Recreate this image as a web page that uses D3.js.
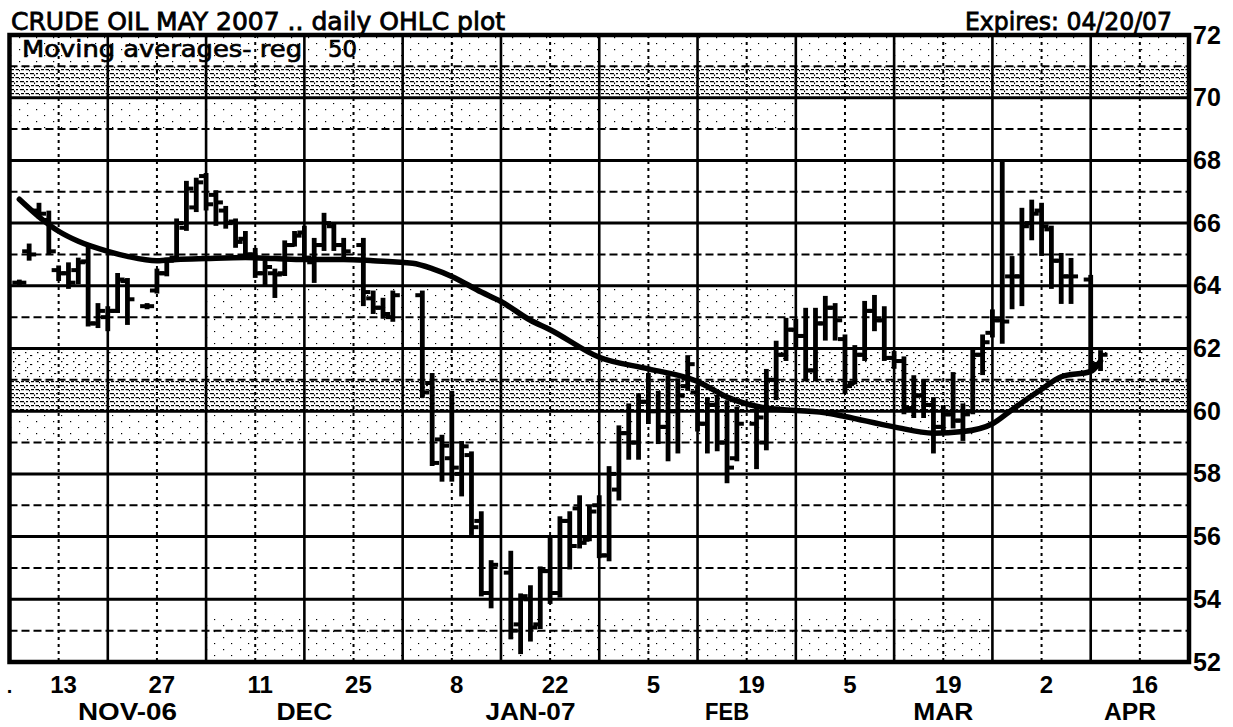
<!DOCTYPE html>
<html><head><meta charset="utf-8">
<script src="https://cdn.jsdelivr.net/npm/d3@7"></script>
<style>
html,body{margin:0;padding:0;background:#fff;}
svg{display:block;}
</style></head><body>
<svg id="chart" width="1233" height="727"></svg>
<script>
// ---------------- data ----------------
const dates = ["2006-11-07","2006-11-08","2006-11-09","2006-11-10",
"2006-11-13","2006-11-14","2006-11-15","2006-11-16","2006-11-17",
"2006-11-20","2006-11-21","2006-11-22","2006-11-24",
"2006-11-27","2006-11-28","2006-11-29","2006-11-30","2006-12-01",
"2006-12-04","2006-12-05","2006-12-06","2006-12-07","2006-12-08",
"2006-12-11","2006-12-12","2006-12-13","2006-12-14","2006-12-15",
"2006-12-18","2006-12-19","2006-12-20","2006-12-21","2006-12-22",
"2006-12-26","2006-12-27","2006-12-28","2006-12-29",
"2007-01-03","2007-01-04","2007-01-05",
"2007-01-08","2007-01-09","2007-01-10","2007-01-11","2007-01-12",
"2007-01-16","2007-01-17","2007-01-18","2007-01-19",
"2007-01-22","2007-01-23","2007-01-24","2007-01-25","2007-01-26",
"2007-01-29","2007-01-30","2007-01-31","2007-02-01","2007-02-02",
"2007-02-05","2007-02-06","2007-02-07","2007-02-08","2007-02-09",
"2007-02-12","2007-02-13","2007-02-14","2007-02-15","2007-02-16",
"2007-02-20","2007-02-21","2007-02-22","2007-02-23",
"2007-02-26","2007-02-27","2007-02-28","2007-03-01","2007-03-02",
"2007-03-05","2007-03-06","2007-03-07","2007-03-08","2007-03-09",
"2007-03-12","2007-03-13","2007-03-14","2007-03-15","2007-03-16",
"2007-03-19","2007-03-20","2007-03-21","2007-03-22","2007-03-23",
"2007-03-26","2007-03-27","2007-03-28","2007-03-29","2007-03-30",
"2007-04-02","2007-04-03","2007-04-04","2007-04-05",
"2007-04-09","2007-04-10"];
const opens = [64.10,65.10,66.40,66.10, 64.50,64.40,64.50,64.78,62.80, 63.00,63.20,64.15,63.35,
63.85,64.40,64.90,65.85,66.50, 67.50,66.90,66.40,66.05,65.50, 65.00,64.40,64.40,64.40,65.30,
65.70,64.75,65.30,65.90,65.30, 65.30,63.60,63.30,63.00, 63.70,60.90,59.10,
58.50,58.00,58.60,56.50,54.20, 54.85,53.20,54.00,53.20, 54.90,54.20,56.50,56.90,55.90,
57.00,55.40,57.50,59.30,59.00, 60.30,60.00,59.50,60.00,60.80, 60.60,59.60,60.20,59.00,58.50,
59.60,59.00,61.00,61.80, 62.60,62.40,61.30,62.80,63.30, 62.30,60.90,61.80,63.20,62.90,
61.70,61.60,60.10,60.50,60.20, 59.50,59.90,59.70,60.00,61.80, 62.50,62.90,64.30,64.30,66.00,
66.40,65.80,64.80,64.30, 64.20,61.50];
const highs = [64.15,65.30,66.60,66.35, 64.60,64.70,64.85,65.20,63.40, 63.30,64.36,64.20,63.40,
64.50,64.85,66.10,67.30,67.40, 67.55,67.00,66.50,66.10,65.70, 65.16,64.75,64.50,65.40,65.70,
65.87,65.48,66.28,65.96,65.48, 65.48,63.80,63.57,63.80, 63.80,61.17,59.20,
60.60,59.00,58.67,56.76,55.20, 55.50,54.14,54.40,55.00, 56.00,56.60,56.76,57.27,56.95,
57.27,58.20,59.50,60.20,60.53, 61.17,60.60,61.10,61.00,61.74, 60.80,60.40,60.47,60.30,60.10,
60.15,61.30,62.20,62.93, 62.90,63.25,63.25,63.63,63.40, 62.40,62.06,63.47,63.66,63.30,
61.87,61.70,61.10,60.97,60.40, 60.15,61.20,60.20,62.00,62.40, 63.20,68.00,64.90,66.44,66.70,
66.60,65.87,65.00,64.84, 64.30,61.90];
const lows = [64.05,64.85,66.20,65.05, 64.20,63.95,64.10,62.75,62.70, 62.60,63.18,62.80,63.30,
63.80,64.35,64.90,65.80,66.40, 66.45,65.96,65.87,65.26,64.94, 64.30,64.04,63.66,64.36,65.30,
64.84,64.14,65.16,65.16,64.94, 63.40,63.15,63.00,62.90, 60.47,58.30,57.80,
57.80,57.33,56.10,54.14,53.76, 52.77,52.30,52.70,53.10, 53.90,54.10,55.00,55.67,55.90,
55.36,55.26,57.20,58.50,58.50, 59.64,59.00,58.45,58.70,60.70, 59.40,58.70,58.77,57.75,58.45,
58.20,58.80,60.40,61.65, 62.00,61.00,61.00,62.30,62.30, 60.60,60.90,61.65,62.60,61.65,
61.40,59.95,59.83,59.83,58.70, 59.30,59.50,59.10,59.95,61.20, 62.40,62.20,63.30,63.40,65.50,
65.00,63.95,63.47,63.47, 61.33,61.33];
const closes = [64.10,65.00,66.30,65.10, 64.40,64.10,64.75,62.80,63.20, 63.20,64.20,63.57,63.35,
64.40,64.80,66.00,67.10,67.30, 66.60,66.66,66.00,65.40,65.00, 64.40,64.60,64.36,65.30,65.60,
64.90,65.30,66.00,65.30,65.10, 63.80,63.30,63.10,63.70, 60.60,58.35,58.90,
58.20,58.88,56.30,54.20,55.10, 53.00,54.10,53.10,54.90, 54.20,56.50,55.70,55.80,56.80,
55.40,58.00,59.30,59.00,60.30, 60.00,59.50,60.00,60.50,61.50, 59.60,60.20,59.00,58.20,59.60,
59.80,61.00,61.80,62.60, 62.40,61.30,62.80,63.30,62.90, 60.80,61.80,63.20,62.90,61.70,
61.60,60.10,60.50,60.20,59.50, 59.90,59.70,59.90,61.80,62.20, 62.90,62.86,64.30,65.90,66.30,
65.90,64.80,64.30,64.30, 61.50,61.80];

// 50-day moving average
const maDates = ["2006-11-07","2006-11-09","2006-11-13","2006-11-15","2006-11-20","2006-11-22",
"2006-11-27","2006-11-29","2006-12-04","2006-12-08","2006-12-13","2006-12-18","2006-12-22",
"2006-12-27","2007-01-02","2007-01-04","2007-01-08","2007-01-11","2007-01-15","2007-01-18",
"2007-01-22","2007-01-29","2007-02-05","2007-02-12","2007-02-15","2007-02-21","2007-03-01",
"2007-03-05","2007-03-12","2007-03-16","2007-03-21","2007-03-26","2007-03-28","2007-04-02",
"2007-04-04","2007-04-09","2007-04-10"];
const maValues = [66.76,66.20,65.74,65.42,65.10,64.94, 64.80,64.84,64.87,64.90,64.87,64.84,64.84,
64.80,64.72,64.55,64.30,63.80,63.50,62.90, 62.60,61.72,61.35,60.95,60.45,60.10,59.95,
59.83,59.50,59.30,59.35,59.60,60.05,60.70, 61.10,61.27,61.60];

const yTickValues = [52,54,56,58,60,62,64,66,68,70,72];
const dayLabelDates = ["2006-11-13","2006-11-27","2006-12-11","2006-12-25","2007-01-08","2007-01-22",
"2007-02-05","2007-02-19","2007-03-05","2007-03-19","2007-04-02","2007-04-16"];
const dayLabelTexts = ["13","27","11","25","8","22","5","19","5","19","2","16"];
const monthLabelDates = ["2006-11-22","2006-12-18","2007-01-18","2007-02-15","2007-03-19","2007-04-13"];
const monthLabelTexts = ["NOV-06","DEC","JAN-07","FEB","MAR","APR"];

const titleText = "CRUDE OIL MAY 2007 .. daily OHLC plot";
const expiresText = "Expires: 04/20/07";
const maLabelText = "Moving averages- reg";
const maPeriodText = "50";

// ---------------- layout ----------------
const W = 1233, H = 727;
const plot = {left: 9.5, right: 1189, top: 35, bottom: 662};
const origin = Date.UTC(2006, 10, 6);           // Monday, first week of the chart
function slotOf(s) {                               // trading-day slot (5 per week)
  const [y, m, d] = s.split("-").map(Number);
  const days = Math.round((Date.UTC(y, m - 1, d) - origin) / 86400000);
  return Math.floor(days / 7) * 5 + (days % 7);
}
const x = d3.scaleLinear().domain([0, 120]).range([plot.left, plot.right]);
const y = d3.scaleLinear().domain([52, 72]).range([plot.bottom, plot.top]);

const svg = d3.select("#chart");
svg.append("rect").attr("width", W).attr("height", H).attr("fill", "#fff");

// halftone patterns (scanned shading)
const defs = svg.append("defs");
function pattern(id, w, h, rects) {
  const p = defs.append("pattern").attr("id", id).attr("patternUnits", "userSpaceOnUse")
    .attr("width", w).attr("height", h);
  rects.forEach(r => p.append("rect").attr("x", r[0]).attr("y", r[1])
    .attr("width", r[2]).attr("height", r[3]).attr("fill", "#000"));
}
pattern("dense", 10, 8, [[0,1,4,1.2],[6,1,2,1.2],[1,5,3,1.2],[5.5,5,3.5,1.2],[4,2.5,1.1,1.6],[9,6,1,1.3]]);
pattern("medium", 12, 9, [[1,1,1.4,1.2],[6,4,2.2,1.1],[3,7,1.1,1.1]]);
pattern("light", 17, 12, [[2,1,1.2,1.2],[10,7,1.2,1.1]]);

const shadeLo = [70, 71, 69, 60, 61, 59, 62, 52];
const shadeHi = [71, 72, 70, 61, 62, 60, 64, 53.5];
const shadeFrom = [0, 0, 0, 0, 0, 0, 20, 20];
const shadeTo = [120, 120, 80, 120, 120, 100, 80, 100];
const shadeKind = ["dense", "light", "light", "dense", "medium", "light", "light", "light"];
shadeLo.forEach((lo, i) => {
  svg.append("rect")
    .attr("x", x(shadeFrom[i])).attr("width", x(shadeTo[i]) - x(shadeFrom[i]))
    .attr("y", y(shadeHi[i])).attr("height", y(lo) - y(shadeHi[i]))
    .attr("fill", `url(#${shadeKind[i]})`);
});

// grid
const grid = svg.append("g");
d3.range(53, 72).forEach(v => {
  const solid = v % 2 === 0;
  grid.append("line").attr("x1", plot.left).attr("x2", plot.right)
    .attr("y1", y(v)).attr("y2", y(v))
    .attr("stroke", "#000").attr("stroke-width", solid ? 3 : 2)
    .attr("stroke-dasharray", solid ? null : "8,4");
});
d3.range(1, 24).forEach(k => {
  const solid = k % 2 === 0;
  grid.append("line").attr("x1", x(5 * k)).attr("x2", x(5 * k))
    .attr("y1", plot.top).attr("y2", plot.bottom)
    .attr("stroke", "#000").attr("stroke-width", solid ? 2.6 : 2)
    .attr("stroke-dasharray", solid ? null : "3,4");
});

// OHLC bars
const bars = svg.append("g").attr("stroke", "#000").attr("stroke-linecap", "butt");
dates.forEach((d, i) => {
  const cx = x(slotOf(d));
  bars.append("line").attr("x1", cx).attr("x2", cx)
    .attr("y1", y(highs[i]) - 1.5).attr("y2", y(lows[i]) + 1.5).attr("stroke-width", 4.8);
  bars.append("line").attr("x1", cx - 7).attr("x2", cx)
    .attr("y1", y(opens[i])).attr("y2", y(opens[i])).attr("stroke-width", 4);
  bars.append("line").attr("x1", cx).attr("x2", cx + 7)
    .attr("y1", y(closes[i])).attr("y2", y(closes[i])).attr("stroke-width", 4);
});

// moving average
const maLine = d3.line().curve(d3.curveMonotoneX)
  .x((d, i) => x(slotOf(maDates[i]))).y(v => y(v));
svg.append("path").attr("d", maLine(maValues))
  .attr("fill", "none").attr("stroke", "#000").attr("stroke-width", 5.5)
  .attr("stroke-linecap", "round").attr("stroke-linejoin", "round");

// frame
svg.append("rect").attr("x", plot.left).attr("y", plot.top)
  .attr("width", plot.right - plot.left).attr("height", plot.bottom - plot.top)
  .attr("fill", "none").attr("stroke", "#000").attr("stroke-width", 4.5);

// y axis labels (right)
const yAxis = d3.axisRight(y).tickValues(yTickValues).tickSize(0).tickPadding(4).tickFormat(d3.format("d"));
const gy = svg.append("g").attr("transform", `translate(${plot.right},0)`).call(yAxis);
gy.select(".domain").remove();
gy.selectAll("text").attr("font-family", "Liberation Sans, Arial, sans-serif")
  .attr("font-weight", "bold").attr("font-size", 25).attr("fill", "#000");

// x labels
const labelFont = "Liberation Sans, Arial, sans-serif";
const monthLabelWidths = [99, 56, 90, 44, 60, 52];
svg.append("g").selectAll("text").data(dayLabelDates).join("text")
  .attr("x", d => x(slotOf(d) + 0.5)).attr("y", 693)
  .attr("text-anchor", "middle").attr("font-family", labelFont).attr("font-weight", "bold")
  .attr("font-size", 24).text((d, i) => dayLabelTexts[i]);
svg.append("g").selectAll("text").data(monthLabelDates).join("text")
  .attr("x", d => x(slotOf(d))).attr("y", 720)
  .attr("text-anchor", "middle").attr("font-family", labelFont).attr("font-weight", "bold")
  .attr("font-size", 23).attr("textLength", (d, i) => monthLabelWidths[i])
  .attr("lengthAdjust", "spacingAndGlyphs").text((d, i) => monthLabelTexts[i]);
svg.append("text").attr("x", x(0)).attr("y", 693).attr("text-anchor", "middle")
  .attr("font-family", labelFont).attr("font-weight", "bold").attr("font-size", 20).text(".");

// titles
const tFont = "DejaVu Sans, sans-serif";
svg.append("text").attr("x", 11).attr("y", 30).attr("font-family", tFont).attr("font-size", 24)
  .attr("textLength", 494).attr("lengthAdjust", "spacingAndGlyphs")
  .attr("stroke", "#000").attr("stroke-width", 0.8).text(titleText);
svg.append("text").attr("x", 965).attr("y", 30).attr("font-family", tFont).attr("font-size", 24)
  .attr("textLength", 207).attr("lengthAdjust", "spacingAndGlyphs")
  .attr("stroke", "#000").attr("stroke-width", 0.8).text(expiresText);
svg.append("text").attr("x", 22).attr("y", 57).attr("font-family", tFont).attr("font-size", 23)
  .attr("textLength", 280).attr("lengthAdjust", "spacingAndGlyphs")
  .attr("stroke", "#000").attr("stroke-width", 0.7).text(maLabelText);
svg.append("text").attr("x", 328).attr("y", 57).attr("font-family", tFont).attr("font-size", 23)
  .attr("textLength", 29).attr("lengthAdjust", "spacingAndGlyphs")
  .attr("stroke", "#000").attr("stroke-width", 0.7).text(maPeriodText);
</script>
</body></html>
